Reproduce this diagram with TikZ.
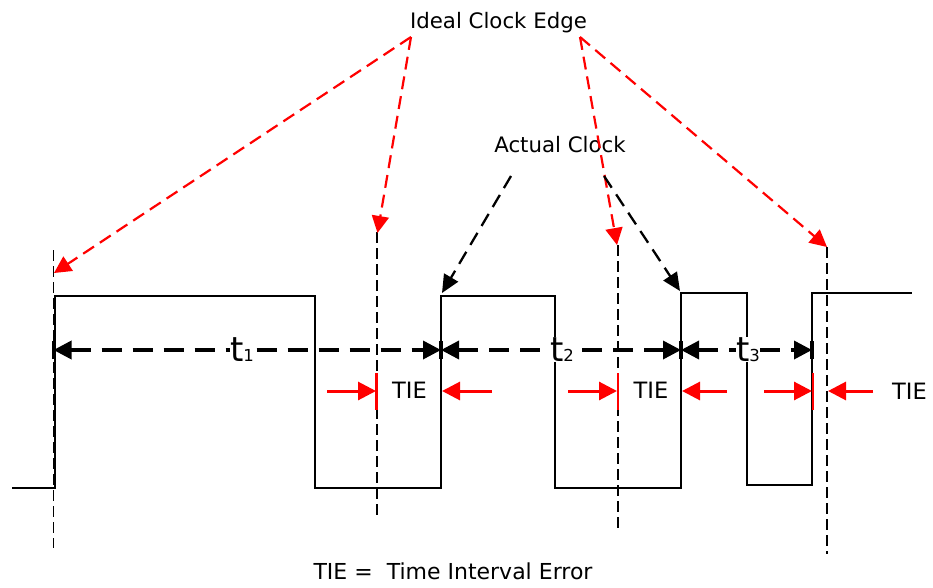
\documentclass[tikz,border=0pt]{standalone}
\usepackage{fontspec}
\setmainfont{DejaVu Sans}
\usetikzlibrary{arrows.meta}
\begin{document}
\begin{tikzpicture}[x=1pt,y=-1pt,
  wave/.style={line width=1.7pt, line join=miter},
  idealline/.style={line width=1.3pt, dash pattern=on 11pt off 5pt},
  redarr/.style={red, line width=2.2pt, dash pattern=on 13pt off 7pt, -{Triangle[length=17pt,width=17pt]}},
  blkarr/.style={black, line width=2.3pt, dash pattern=on 14pt off 8pt, -{Triangle[length=18pt,width=16pt]}},
  dimline/.style={line width=3.5pt, dash pattern=on 20pt off 11pt, {Triangle[length=18pt,width=18pt]}-{Triangle[length=18pt,width=18pt]}},
  dimbar/.style={line width=3.5pt},
  tiearr/.style={red, line width=3pt, -{Triangle[length=18pt,width=18pt]}},
  tiebar/.style={red, line width=2.4pt},
  lbl/.style={inner sep=0pt, anchor=base, font=\fontsize{21.3}{25}\selectfont},
  tielbl/.style={inner sep=0pt, anchor=base, font=\fontsize{22.5}{26}\selectfont},
  tlbl/.style={fill=white, inner sep=0.5pt, anchor=base}
]
\useasboundingbox (0,0) rectangle (933,588);

% waveform
\draw[wave] (12,488) -- (55,488) -- (55,296) -- (315,296) -- (315,488) -- (441,488)
  -- (441,296) -- (555,296) -- (555,488) -- (681,488) -- (681,293) -- (747,293)
  -- (747,485) -- (812,485) -- (812,293) -- (912,293);

% ideal edge lines
\coordinate (e1t) at (53.5,250); \coordinate (e1b) at (53.5,548);
\coordinate (e2t) at (377,232);  \coordinate (e2b) at (377,520);
\coordinate (e3t) at (618,245);  \coordinate (e3b) at (618,531);
\coordinate (e4t) at (827,247);  \coordinate (e4b) at (827,554);
\draw[idealline] (e1t) -- (e1b);
\draw[idealline] (e2t) -- (e2b);
\draw[idealline] (e3t) -- (e3b);
\draw[idealline] (e4t) -- (e4b);

% labels
\node[lbl] (ideal) at (498.5,28.4) {Ideal Clock Edge};
\node[lbl] (actual) at (560,152.7) {Actual Clock};

% red arrows from Ideal Clock Edge
\coordinate (iL) at (411,37);
\coordinate (iR) at (580,37);
\coordinate (r1) at (54,273);
\coordinate (r2) at (377.5,233);
\coordinate (r3) at (617,245);
\coordinate (r4) at (827,247);
\draw[redarr] (iL) -- (r1);
\draw[redarr] (iL) -- (r2);
\draw[redarr] (iR) -- (r3);
\draw[redarr] (iR) -- (r4);

% black arrows from Actual Clock
\coordinate (aL) at (511,176);
\coordinate (aR) at (604,176);
\coordinate (b1) at (442,293);
\coordinate (b2) at (680,291);
\draw[blkarr] (aL) -- (b1);
\draw[blkarr] (aR) -- (b2);

% dimension lines
\coordinate (d0) at (53.5,350);
\coordinate (d1) at (441,350);
\coordinate (d2) at (681,350);
\coordinate (d3) at (812,350);
\draw[dimline] (d0) -- (d1);
\draw[dimline] (d1) -- (d2);
\draw[dimline] (d2) -- (d3);
\foreach \p in {d0,d1,d2,d3}{
  \draw[dimbar] ([yshift=-9pt]\p) -- ([yshift=9pt]\p);
}
\node[tlbl] (t1) at (242,361) {\fontsize{34}{34}\selectfont t\fontsize{16.5}{16.5}\selectfont 1};
\node[tlbl] (t2) at (562,361) {\fontsize{34}{34}\selectfont t\fontsize{16.5}{16.5}\selectfont 2};
\node[tlbl] (t3) at (748,361) {\fontsize{34}{34}\selectfont t\fontsize{16.5}{16.5}\selectfont 3};

% TIE markers
\coordinate (a1s) at (327,391); \coordinate (a1e) at (376,391);
\coordinate (a2s) at (492,391); \coordinate (a2e) at (442,391);
\coordinate (a3s) at (568,391); \coordinate (a3e) at (617,391);
\coordinate (a4s) at (727,391); \coordinate (a4e) at (682,391);
\coordinate (a5s) at (764,391); \coordinate (a5e) at (812,391);
\coordinate (a6s) at (873,391); \coordinate (a6e) at (828,391);
\draw[tiearr] (a1s) -- (a1e);
\draw[tiearr] (a2s) -- (a2e);
\draw[tiearr] (a3s) -- (a3e);
\draw[tiearr] (a4s) -- (a4e);
\draw[tiearr] (a5s) -- (a5e);
\draw[tiearr] (a6s) -- (a6e);
\coordinate (m1t) at (376.5,373); \coordinate (m1b) at (376.5,410);
\coordinate (m2t) at (618,373);   \coordinate (m2b) at (618,410);
\coordinate (m3t) at (813,373);   \coordinate (m3b) at (813,410);
\draw[tiebar] (m1t) -- (m1b);
\draw[tiebar] (m2t) -- (m2b);
\draw[tiebar] (m3t) -- (m3b);
\node[tielbl] (tie1) at (409.5,398.3) {TIE};
\node[tielbl] (tie2) at (651,398.3) {TIE};
\node[tielbl] (tie3) at (909.5,399) {TIE};

% footnote
\node[lbl, font=\fontsize{22}{26}\selectfont] (note) at (453,579.3) {TIE =\ \ Time Interval Error};
\end{tikzpicture}
\end{document}
